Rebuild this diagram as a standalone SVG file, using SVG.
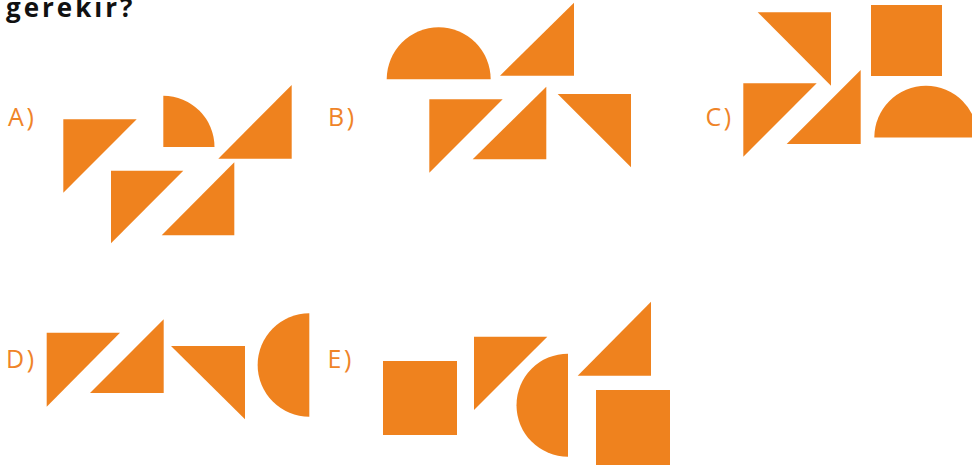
<svg xmlns="http://www.w3.org/2000/svg" width="972" height="465" viewBox="0 0 972 465">
  <style>
    .s { fill: #EF821E; }
    .lbl { font-family: "Open Sans", "Liberation Sans", sans-serif; font-size: 25px; fill: #EF8428; letter-spacing: 2.6px; }
    .title { font-family: "Open Sans", "Liberation Sans", sans-serif; font-size: 26px; font-weight: bold; fill: #111111; letter-spacing: 3px; }
  </style>
  <rect width="972" height="465" fill="#ffffff"/>
  <text class="title" x="6" y="16.5">gerekir?</text>

  <g id="option-a">
    <text class="lbl" x="8" y="126">A)</text>
    <polygon class="s" points="63.3,119.3 136.7,119.3 63.3,192.7"/>
    <path class="s" d="M163.3,95.8 A51.2,51.2 0 0 1 214.5,147 L163.3,147 Z"/>
    <polygon class="s" points="291.7,85 291.7,158.7 218.3,158.7"/>
    <polygon class="s" points="111,170.7 183.3,170.7 111,243.3"/>
    <polygon class="s" points="234.3,162.3 234.3,235.3 161.7,235.3"/>
  </g>

  <g id="option-b">
    <text class="lbl" x="328" y="126">B)</text>
    <path class="s" d="M386.7,79.3 A52,52 0 0 1 490.7,79.3 Z"/>
    <polygon class="s" points="574,2.7 574,75.7 500,75.7"/>
    <polygon class="s" points="429.3,99.3 502.7,99.3 429.3,172.7"/>
    <polygon class="s" points="546.3,86.7 546.3,159.3 472.7,159.3"/>
    <polygon class="s" points="557.7,94 631,94 631,167.3"/>
  </g>

  <g id="option-c">
    <text class="lbl" x="705.5" y="126">C)</text>
    <polygon class="s" points="757.7,12.3 831,12.3 831,85.7"/>
    <rect class="s" x="871" y="5" width="71" height="71"/>
    <polygon class="s" points="743.3,83.3 816.7,83.3 743.3,156.7"/>
    <polygon class="s" points="860.7,70 860.7,144 786.7,144"/>
    <path class="s" d="M874.3,137.5 A51.7,51.7 0 0 1 977.7,137.5 Z"/>
  </g>

  <g id="option-d">
    <text class="lbl" x="6" y="368">D)</text>
    <polygon class="s" points="46.7,332.7 120,332.7 46.7,406.7"/>
    <polygon class="s" points="163.7,319.3 163.7,393 90,393"/>
    <polygon class="s" points="171,346 245,346 245,419.3"/>
    <path class="s" d="M309.3,313.3 A51.7,51.7 0 0 0 309.3,416.7 Z"/>
  </g>

  <g id="option-e">
    <text class="lbl" x="327.5" y="368">E)</text>
    <rect class="s" x="383" y="361" width="74" height="74"/>
    <polygon class="s" points="474,336.7 547.3,336.7 474,410"/>
    <path class="s" d="M568,353.7 A51.5,51.5 0 0 0 568,456.7 Z"/>
    <polygon class="s" points="651,301.7 651,375.7 577.7,375.7"/>
    <rect class="s" x="596" y="390" width="74" height="75"/>
  </g>

  <g id="connectors"></g>
</svg>
